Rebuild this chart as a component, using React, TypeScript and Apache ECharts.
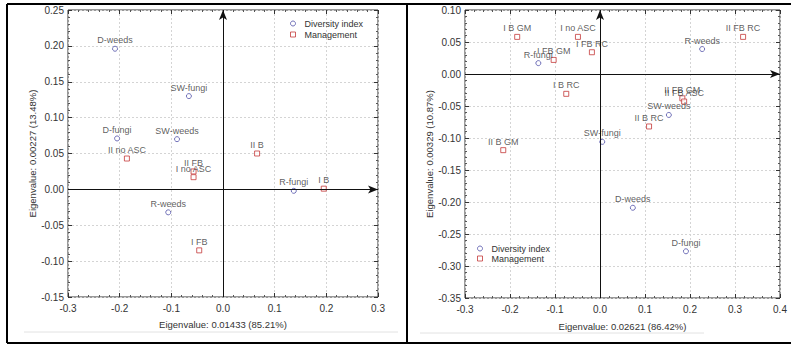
import React, { useEffect, useRef } from "react";
import * as echarts from "echarts";

// ---- Left panel data ----
const leftDivNames = ["D-weeds", "SW-fungi", "D-fungi", "SW-weeds", "R-fungi", "R-weeds"];
const leftDivX = [-0.209, -0.066, -0.205, -0.089, 0.137, -0.106];
const leftDivY = [0.196, 0.13, 0.071, 0.07, -0.002, -0.032];
const leftMgmtNames = ["II no ASC", "II FB", "I no ASC", "II B", "I B", "I FB"];
const leftMgmtX = [-0.186, -0.057, -0.057, 0.066, 0.195, -0.046];
const leftMgmtY = [0.043, 0.025, 0.017, 0.05, 0.001, -0.085];

// ---- Right panel data ----
const rightDivNames = ["R-fungi", "R-weeds", "SW-weeds", "SW-fungi", "D-weeds", "D-fungi"];
const rightDivX = [-0.137, 0.227, 0.153, 0.005, 0.073, 0.191];
const rightDivY = [0.017, 0.039, -0.064, -0.106, -0.209, -0.277];
const rightMgmtNames = ["I B GM", "I no ASC", "I FB RC", "I FB GM", "I B RC", "II B GM", "II B RC", "II FB GM", "II FB ASC", "II FB RC"];
const rightMgmtX = [-0.184, -0.049, -0.018, -0.103, -0.075, -0.215, 0.109, 0.183, 0.187, 0.318];
const rightMgmtY = [0.058, 0.058, 0.034, 0.022, -0.031, -0.119, -0.082, -0.038, -0.043, 0.058];

// ---- Axis settings ----
const leftXRange = [-0.3, 0.3];
const leftYRange = [-0.15, 0.25];
const rightXRange = [-0.3, 0.4];
const rightYRange = [-0.35, 0.1];
const xInterval = 0.1;
const yInterval = 0.05;
const leftXTitle = "Eigenvalue: 0.01433 (85.21%)";
const leftYTitle = "Eigenvalue: 0.00227 (13.48%)";
const rightXTitle = "Eigenvalue: 0.02621 (86.42%)";
const rightYTitle = "Eigenvalue: 0.00329 (10.87%)";
const legendNames = ["Diversity index", "Management"];

const FONT = '"Liberation Sans", Arial, Helvetica, sans-serif';
const TEXT = "#333";
const BLUE = "#4f4fa8";
const RED = "#c43a3a";

const fmtX = (v: number) => (Math.abs(v) < 1e-9 ? "0.0" : v.toFixed(1));
const fmtY = (v: number) => (Math.abs(v) < 1e-9 ? "0.00" : v.toFixed(2));

function pts(names: string[], xs: number[], ys: number[]) {
  return names.map((n, i) => ({ name: n, value: [xs[i], ys[i]] }));
}

function axisPair(
  dim: "x" | "y",
  gridIndex: number,
  range: number[],
  interval: number,
  fmt: (v: number) => string,
  title: string,
  nameGap: number
) {
  const common = {
    type: "value",
    gridIndex,
    min: range[0],
    max: range[1],
    interval,
    axisLine: { show: false, onZero: false },
    axisTick: { show: true, inside: true, length: 4, lineStyle: { color: "#333" } },
    minorTick: { show: true, splitNumber: 5, length: 2, lineStyle: { color: "#555" } },
  };
  const main = {
    ...common,
    position: dim === "x" ? "bottom" : "left",
    name: title,
    nameLocation: "middle",
    nameGap,
    nameTextStyle: { fontFamily: FONT, fontSize: 9.5, color: TEXT },
    axisLabel: {
      show: true,
      fontFamily: FONT,
      fontSize: 10,
      color: TEXT,
      margin: dim === "x" ? 6 : 4,
      formatter: fmt,
    },
    splitLine: { show: true, lineStyle: { color: "#d4d4d4", type: [2, 2], width: 1 } },
  };
  const second = {
    ...common,
    position: dim === "x" ? "top" : "right",
    axisLabel: { show: false },
    splitLine: { show: false },
  };
  return [main, second];
}

function panelSeries(xIdx: number, yIdx: number, div: any[], mgmt: any[]) {
  const label = {
    show: true,
    position: "top",
    distance: 1,
    formatter: (p: any) => p.name,
    fontFamily: FONT,
    fontSize: 9,
    color: TEXT,
  };
  return [
    {
      type: "scatter",
      name: legendNames[0],
      xAxisIndex: xIdx,
      yAxisIndex: yIdx,
      symbol: "circle",
      symbolSize: 5,
      itemStyle: { color: "#fff", borderColor: BLUE, borderWidth: 1 },
      label,
      data: div,
      markLine: {
        silent: true,
        symbol: ["none", "arrow"],
        symbolSize: [6, 10],
        label: { show: false },
        lineStyle: { color: "#111", type: "solid", width: 1 },
        data: [{ yAxis: 0 }, { xAxis: 0 }],
      },
      z: 3,
    },
    {
      type: "scatter",
      name: legendNames[1],
      xAxisIndex: xIdx,
      yAxisIndex: yIdx,
      symbol: "rect",
      symbolSize: 5,
      itemStyle: { color: "#fff", borderColor: RED, borderWidth: 1 },
      label,
      data: mgmt,
      z: 3,
    },
  ];
}

export default function App() {
  const ref = useRef<HTMLDivElement>(null);
  useEffect(() => {
    if (!ref.current) return;
    const chart = echarts.init(ref.current, null, { renderer: "svg" });
    const [lx0, lx1] = axisPair("x", 0, leftXRange, xInterval, fmtX, leftXTitle, 22);
    const [ly0, ly1] = axisPair("y", 0, leftYRange, yInterval, fmtY, leftYTitle, 29);
    const [rx0, rx1] = axisPair("x", 1, rightXRange, xInterval, fmtX, rightXTitle, 23);
    const [ry0, ry1] = axisPair("y", 1, rightYRange, yInterval, fmtY, rightYTitle, 30);

    const legendCommon = {
      orient: "vertical",
      data: legendNames,
      padding: 0,
      itemWidth: 5,
      itemHeight: 5,
      itemStyle: { borderWidth: 1 },
      textStyle: { fontFamily: FONT, fontSize: 9, color: TEXT, padding: [0, 0, 0, 4] },
      selectedMode: false,
    };

    const faint = { stroke: "#e2e2e2", lineWidth: 1 };
    const frame = { stroke: "#000", lineWidth: 2 };

    chart.setOption({
      animation: false,
      backgroundColor: "#fff",
      grid: [
        { left: 68, top: 10, width: 310, height: 287, show: true, borderColor: "#333", borderWidth: 1, backgroundColor: "transparent" },
        { left: 465, top: 10, width: 315, height: 288, show: true, borderColor: "#333", borderWidth: 1, backgroundColor: "transparent" },
      ],
      xAxis: [lx0, lx1, rx0, rx1],
      yAxis: [ly0, ly1, ry0, ry1],
      legend: [
        { ...legendCommon, left: 290, top: 19, itemGap: 2 },
        { ...legendCommon, left: 477, top: 244, itemGap: 1 },
      ],
      series: [
        ...panelSeries(0, 0, pts(leftDivNames, leftDivX, leftDivY), pts(leftMgmtNames, leftMgmtX, leftMgmtY)),
        ...panelSeries(2, 2, pts(rightDivNames, rightDivX, rightDivY), pts(rightMgmtNames, rightMgmtX, rightMgmtY)),
      ],
      graphic: [
        { type: "line", shape: { x1: 7, y1: 4, x2: 791, y2: 4 }, style: frame, silent: true },
        { type: "line", shape: { x1: 7, y1: 343, x2: 791, y2: 343 }, style: frame, silent: true },
        { type: "line", shape: { x1: 7, y1: 4, x2: 7, y2: 343 }, style: frame, silent: true },
        { type: "line", shape: { x1: 407, y1: 4, x2: 407, y2: 343 }, style: frame, silent: true },
        { type: "line", shape: { x1: 24, y1: 332, x2: 398, y2: 332 }, style: faint, silent: true },
        { type: "line", shape: { x1: 420, y1: 333, x2: 704, y2: 333 }, style: faint, silent: true },
      ],
    });
    return () => chart.dispose();
  }, []);
  return (
    <div
      ref={ref}
      style={{ position: "absolute", left: 0, top: 0, width: 794, height: 345 }}
    />
  );
}
